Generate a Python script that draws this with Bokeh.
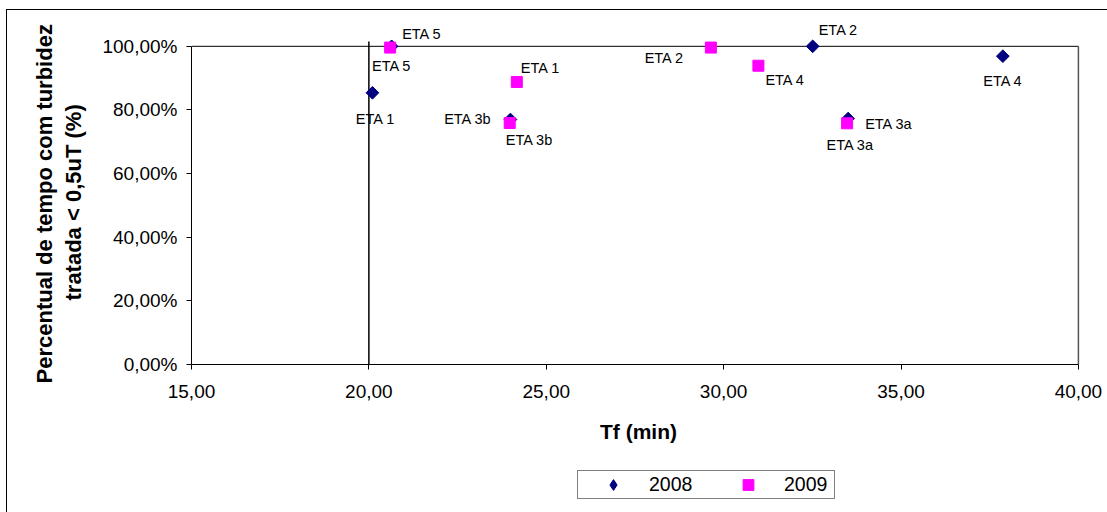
import math
from bokeh.plotting import figure
from bokeh.layouts import column
from bokeh.models import (ColumnDataSource, Range1d, FixedTicker, Legend,
                          LegendItem, Title)
from bokeh.core.properties import value
from bokeh.embed import file_html
from bokeh.resources import INLINE

# ---------------- data ----------------
stations = ["ETA 1", "ETA 2", "ETA 3a", "ETA 3b", "ETA 4", "ETA 5"]
tf_2008 = [20.10, 32.51, 33.51, 23.99, 37.87, 20.64]
pct_2008 = [85.4, 100.0, 77.3, 77.0, 96.9, 100.0]
tf_2009 = [24.17, 29.64, 33.48, 23.97, 30.98, 20.60]
pct_2009 = [88.8, 99.6, 75.8, 75.9, 93.9, 99.6]
series_names = ["2008", "2009"]

x_ticks = [15, 20, 25, 30, 35, 40]
x_tick_labels = ["15,00", "20,00", "25,00", "30,00", "35,00", "40,00"]
y_ticks = [0, 20, 40, 60, 80, 100]
y_tick_labels = ["0,00%", "20,00%", "40,00%", "60,00%", "80,00%", "100,00%"]
y_title_lines = ["Percentual de tempo com turbidez", "tratada < 0,5uT (%)"]
x_title = "Tf (min)"

ref_line_tf = [20.0, 20.0]
ref_line_pct = [0.0, 101.5]

# label placement (style only): align, x offset px, y offset px
lab08_align = ["center", "left", "left", "right", "center", "center"]
lab08_dx = [3, 6, 17, -19, 0, 0]
lab08_dy = [26, -16, 5, -1, 25, 20]
lab09_align = ["left", "right", "center", "left", "left", "left"]
lab09_dx = [4, -27, 3, -4, 7, 12]
lab09_dy = [-14, 10, 22, 17, 14, -14]

FONT = "Liberation Sans"
NAVY = "#000080"
MAGENTA = "#FF00FF"

# ---------------- main figure ----------------
p = figure(width=1100, height=450, output_backend="svg", toolbar_location=None,
           x_range=Range1d(15, 40.2), y_range=Range1d(0, 110),
           min_border_left=184, min_border_right=22,
           min_border_top=4, min_border_bottom=96,
           background_fill_color="white", border_fill_color="white")
p.outline_line_color = None
p.xgrid.visible = False
p.ygrid.visible = False

for ax in (p.xaxis[0], p.yaxis[0]):
    ax.axis_line_color = "black"
    ax.axis_line_width = 1
    ax.major_tick_line_color = "black"
    ax.major_tick_in = 0
    ax.major_tick_out = 5
    ax.minor_tick_line_color = None
    ax.major_label_text_font = FONT
    ax.major_label_text_font_size = "19px"
    ax.major_label_text_color = "black"

p.xaxis.ticker = FixedTicker(ticks=x_ticks)
p.xaxis.major_label_overrides = {t: l for t, l in zip(x_ticks, x_tick_labels)}
p.xaxis.bounds = (x_ticks[0], x_ticks[-1])
p.xaxis.major_label_standoff = 15
p.xaxis.axis_label = x_title
p.xaxis.axis_label_text_font = FONT
p.xaxis.axis_label_text_font_style = "bold"
p.xaxis.axis_label_text_font_size = "21px"
p.xaxis.axis_label_text_color = "black"
p.xaxis.axis_label_standoff = 19

p.yaxis.ticker = FixedTicker(ticks=y_ticks)
p.yaxis.major_label_overrides = {t: l for t, l in zip(y_ticks, y_tick_labels)}
p.yaxis.bounds = (y_ticks[0], y_ticks[-1])
p.yaxis.major_label_standoff = 9

# plot area top / right border
p.line(x=[x_ticks[0], x_ticks[-1]], y=[y_ticks[-1], y_ticks[-1]], line_color="black", line_width=1)
p.line(x=[x_ticks[-1], x_ticks[-1]], y=[y_ticks[0], y_ticks[-1]], line_color="#555555", line_width=1.5)

# reference vertical line
p.line(x=ref_line_tf, y=ref_line_pct, line_color="black", line_width=1.5)

src08 = ColumnDataSource(dict(x=tf_2008, y=pct_2008, name=stations,
                              align=lab08_align, dx=lab08_dx, dy=lab08_dy))
src09 = ColumnDataSource(dict(x=tf_2009, y=pct_2009, name=stations,
                              align=lab09_align, dx=lab09_dx, dy=lab09_dy))

r08 = p.scatter("x", "y", source=src08, marker="square", angle=math.pi / 4,
                size=9, fill_color=NAVY, line_color=NAVY)
r09 = p.scatter("x", "y", source=src09, marker="square",
                size=11, fill_color=MAGENTA, line_color=MAGENTA)

for src in (src08, src09):
    p.text("x", "y", text="name", source=src, x_offset="dx", y_offset="dy",
           text_align="align", text_baseline="middle",
           text_font=value(FONT), text_font_size="14.5px", text_color="black")

# two-line y title: a thin spacer, then the inner line, then the outer line
spacer = Title(text=" ", text_font_size="1px", standoff=8)
t2 = Title(text=y_title_lines[1], align="left", offset=64, standoff=5,
           text_font=FONT, text_font_style="bold", text_font_size="22px",
           text_color="black")
t1 = Title(text=y_title_lines[0], align="left", offset=-19, standoff=0,
           text_font=FONT, text_font_style="bold", text_font_size="22px",
           text_color="black")
p.add_layout(spacer, "left")
p.add_layout(t2, "left")
p.add_layout(t1, "left")

# ---------------- legend strip ----------------
leg = figure(width=1100, height=52, output_backend="svg", toolbar_location=None,
             x_range=Range1d(0, 1100), y_range=Range1d(0, 52),
             x_axis_type=None, y_axis_type=None,
             min_border=0, min_border_left=0, min_border_right=0,
             min_border_top=0, min_border_bottom=0,
             background_fill_color="white", border_fill_color="white")
leg.outline_line_color = None
leg.xgrid.visible = False
leg.ygrid.visible = False

# same series drawn in the strip only to feed the legend (they fall outside its range)
l08 = leg.scatter(x=tf_2008, y=pct_2008, marker="diamond",
                  fill_color=NAVY, line_color=NAVY)
l09 = leg.scatter(x=tf_2009, y=pct_2009, marker="square",
                  fill_color=MAGENTA, line_color=MAGENTA)

legend = Legend(items=[LegendItem(label=series_names[0], renderers=[l08], index=0),
                       LegendItem(label=series_names[1], renderers=[l09], index=0)],
                orientation="horizontal", location=(386, 13),
                border_line_color="black", border_line_width=1,
                padding=0, spacing=14, glyph_width=70, glyph_height=27,
                label_width=50, label_height=27, label_standoff=1,
                label_text_font=FONT, label_text_font_size="19.5px",
                label_text_color="black", margin=0,
                background_fill_color="white", background_fill_alpha=1)
leg.add_layout(legend, "center")

layout = column(p, leg, spacing=0, margin=(9, 0, 0, 6),
                styles={"border-left": "1px solid black",
                        "border-top": "1px solid black"})
open("out.html", "w").write(file_html(layout, INLINE))
